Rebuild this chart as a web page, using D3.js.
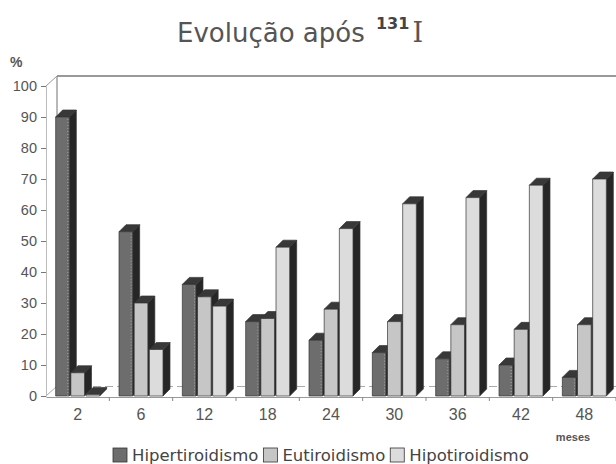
<!DOCTYPE html>
<html>
<head>
<meta charset="utf-8">
<script src="https://cdn.jsdelivr.net/npm/d3@7"></script>
<style>
  body { margin: 0; background: white; }
  svg { display: block; }
</style>
</head>
<body>
<div class="chart"></div>
<script>

// data
var meses = ["2", "6", "12", "18", "24", "30", "36", "42", "48"];
var hiper = [90, 53, 36, 24, 18, 14, 12, 10, 6];
var euti = [7.5, 30, 32, 25, 28, 24, 23, 21.5, 23];
var hipo = [0.5, 15, 29, 48, 54, 62, 64, 68, 70];
var seriesNames = ["Hipertiroidismo", "Eutiroidismo", "Hipotiroidismo"];
var yTicks = [0, 10, 20, 30, 40, 50, 60, 70, 80, 90, 100];

function barChart3d() {

  var width = 616;
  var height = 464;

  var left = 46, right = 616, bottom = 396, top = 86;
  var depth = {x: 11, y: 10};     // offset of the back wall
  var bd = 7;                     // depth of each bar

  var colors = {
    "Hipertiroidismo": "#6d6d6d",
    "Eutiroidismo": "#c6c6c6",
    "Hipotiroidismo": "#dcdcdc"
  };

  var values = {
    "Hipertiroidismo": hiper,
    "Eutiroidismo": euti,
    "Hipotiroidismo": hipo
  };

  var svg = d3.select(".chart").append("svg")
    .attr("width", width)
    .attr("height", height);

  var y = d3.scaleLinear().domain([0, 100]).range([bottom, top]);
  var x = d3.scaleBand().domain(meses).range([left, right]);
  var xs = d3.scaleBand().domain(seriesNames)
    .range([x.bandwidth() / 2 - 22, x.bandwidth() / 2 + 22])
    .paddingInner(0.1);

  // title
  var title = svg.append("text")
    .attr("x", 177)
    .attr("y", 42)
    .style("font-family", "DejaVu Sans, Verdana, sans-serif")
    .style("font-size", "26px")
    .attr("fill", "#555");
  title.append("tspan").text("Evolução após ");
  title.append("tspan")
    .text("131")
    .attr("dy", -13)
    .attr("dx", 3)
    .style("font-size", "16px")
    .style("font-weight", "bold")
    .attr("fill", "#444");
  title.append("tspan")
    .text("I")
    .attr("dy", 13)
    .attr("dx", 3)
    .style("font-family", "DejaVu Serif, serif")
    .style("font-size", "27px");

  svg.append("text")
    .text("%")
    .attr("x", 10)
    .attr("y", 67)
    .style("font-family", "Liberation Sans, Arial, sans-serif")
    .style("font-size", "14px")
    .style("font-weight", "bold")
    .attr("fill", "#555");

  // walls and floor
  var walls = svg.append("g").attr("fill", "none");

  walls.append("line")
    .attr("x1", left + depth.x).attr("x2", right)
    .attr("y1", y(100) - depth.y).attr("y2", y(100) - depth.y)
    .attr("stroke", "#999").attr("stroke-width", 2);
  walls.append("line")
    .attr("x1", left + depth.x).attr("x2", left + depth.x)
    .attr("y1", y(100) - depth.y).attr("y2", y(0) - depth.y)
    .attr("stroke", "#888").attr("stroke-width", 1.2);
  walls.append("line")
    .attr("x1", left + depth.x).attr("x2", right)
    .attr("y1", y(0) - depth.y + 0.5).attr("y2", y(0) - depth.y + 0.5)
    .attr("stroke", "#aaa").attr("stroke-dasharray", "8,4");
  walls.append("line")
    .attr("x1", left).attr("x2", left + depth.x)
    .attr("y1", y(0)).attr("y2", y(0) - depth.y)
    .attr("stroke", "#aaa");
  walls.append("line")
    .attr("x1", left).attr("x2", left + depth.x)
    .attr("y1", y(100)).attr("y2", y(100) - depth.y)
    .attr("stroke", "#999");

  // y axis on the front
  var yAxis = svg.append("g")
    .attr("transform", "translate(" + left + ",0)")
    .call(d3.axisLeft(y).tickValues(yTicks).tickSize(5).tickPadding(4));
  yAxis.select(".domain").attr("stroke", "#bbb");
  yAxis.selectAll(".tick line").attr("stroke", "#777");
  yAxis.selectAll("text")
    .style("font-family", "Liberation Sans, Arial, sans-serif")
    .style("font-size", "14.5px")
    .attr("fill", "#555");

  // x axis on the front of the floor
  var xAxis = svg.append("g")
    .attr("transform", "translate(0," + (y(0) + 1) + ")")
    .call(d3.axisBottom(x).tickSize(0).tickPadding(12));
  xAxis.select(".domain").attr("stroke", "#999");
  xAxis.selectAll("text")
    .style("font-family", "Liberation Sans, Arial, sans-serif")
    .style("font-size", "16px")
    .attr("fill", "#555");
  xAxis.selectAll(".sep")
    .data(meses)
    .enter()
    .append("line")
    .attr("x1", d => x(d) + x.step())
    .attr("x2", d => x(d) + x.step())
    .attr("y1", 0).attr("y2", 4)
    .attr("stroke", "#888");

  svg.append("text")
    .text("meses")
    .attr("x", 573)
    .attr("y", 441)
    .attr("text-anchor", "middle")
    .style("font-family", "Liberation Sans, Arial, sans-serif")
    .style("font-size", "11px")
    .style("font-weight", "bold")
    .attr("fill", "#555");

  // bars, drawn left to right so each front covers the previous side
  var bars = [];
  meses.forEach(function(m, i) {
    seriesNames.forEach(function(s) {
      bars.push({mes: m, serie: s, value: values[s][i]});
    });
  });

  var g = svg.append("g")
    .selectAll("g")
    .data(bars)
    .enter()
    .append("g")
    .attr("stroke", "#333")
    .attr("stroke-width", 0.7)
    .attr("stroke-linejoin", "round");

  function x0(d) { return x(d.mes) + xs(d.serie); }
  function x1(d) { return x0(d) + xs.bandwidth(); }

  g.append("path")
    .attr("fill", "#262626")
    .attr("d", d => "M" + x1(d) + "," + y(d.value) +
      "L" + (x1(d) + bd) + "," + (y(d.value) - bd) +
      "L" + (x1(d) + bd) + "," + (y(0) - bd) +
      "L" + x1(d) + "," + y(0) + "Z");

  g.append("path")
    .attr("fill", "#383838")
    .attr("d", d => "M" + x0(d) + "," + y(d.value) +
      "L" + (x0(d) + bd) + "," + (y(d.value) - bd) +
      "L" + (x1(d) + bd) + "," + (y(d.value) - bd) +
      "L" + x1(d) + "," + y(d.value) + "Z");

  g.append("rect")
    .attr("x", d => x0(d))
    .attr("y", d => y(d.value))
    .attr("width", xs.bandwidth())
    .attr("height", d => y(0) - y(d.value))
    .attr("fill", d => colors[d.serie]);

  // dotted edge on the dark bars
  g.filter(d => d.serie == "Hipertiroidismo")
    .append("line")
    .attr("x1", d => x1(d) - 1.5).attr("x2", d => x1(d) - 1.5)
    .attr("y1", d => y(d.value) + 2).attr("y2", y(0))
    .attr("stroke", "#bbb")
    .attr("stroke-dasharray", "1,2");

  // legend
  var legend = svg.append("g")
    .attr("transform", "translate(113,448)");
  var pos = 0;
  seriesNames.forEach(function(s) {
    var item = legend.append("g").attr("transform", "translate(" + pos + ",0)");
    item.append("rect")
      .attr("width", 14).attr("height", 14)
      .attr("fill", colors[s])
      .attr("stroke", "#333")
      .attr("stroke-width", 0.8);
    var t = item.append("text")
      .text(s)
      .attr("x", 19)
      .attr("y", 13)
      .style("font-family", "DejaVu Sans, Verdana, sans-serif")
      .style("font-size", "16.5px")
      .attr("fill", "#444");
    pos += 19 + t.node().getComputedTextLength() + 5;
  });

}

barChart3d();
</script>
</body>
</html>
